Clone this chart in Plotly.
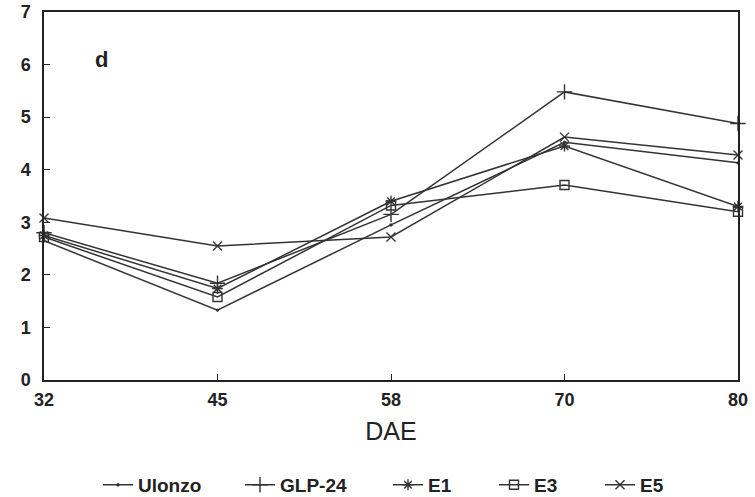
import plotly.graph_objects as go

dae = ["32", "45", "58", "70", "80"]
ulonzo = [2.65, 1.33, 2.95, 4.52, 4.13]
glp24 = [2.80, 1.84, 3.15, 5.48, 4.88]
e1 = [2.75, 1.74, 3.40, 4.45, 3.30]
e3 = [2.72, 1.58, 3.32, 3.71, 3.20]
e5 = [3.08, 2.55, 2.72, 4.62, 4.28]

series = [
    ("Ulonzo", ulonzo, "circle", 2),
    ("GLP-24", glp24, "cross-thin", 11),
    ("E1", e1, "asterisk", 9),
    ("E3", e3, "square-open", 9),
    ("E5", e5, "x-thin", 9),
]
legend_names = ["legend", "legend2", "legend3", "legend4", "legend5"]
legend_px = [98, 240, 388, 494, 600]

line_col = "#333333"
fig = go.Figure()
for (name, vals, sym, size), lg in zip(series, legend_names):
    fig.add_trace(go.Scatter(
        x=dae, y=vals, name=name, mode="lines+markers", legend=lg,
        cliponaxis=False,
        line=dict(color=line_col, width=1.5),
        marker=dict(symbol=sym, size=size, color=line_col,
                    line=dict(color=line_col, width=1.4)),
    ))

tick_font = dict(family="Liberation Sans, Arial", size=18, color="#222", weight="bold")
leg_font = dict(family="Liberation Sans, Arial", size=19, color="#222", weight="bold")

L, R, T, B = 44, 17, 12, 117
pw = 755 - L - R
layout_legends = {}
for lg, px in zip(legend_names, legend_px):
    layout_legends[lg] = dict(orientation="h", x=(px - L) / pw, xanchor="left",
                              y=-0.285, yanchor="middle", font=leg_font,
                              itemwidth=30, bgcolor="rgba(0,0,0,0)")

fig.update_layout(
    width=755, height=497,
    margin=dict(l=L, r=R, t=T, b=B, autoexpand=False),
    paper_bgcolor="white", plot_bgcolor="white",
    showlegend=True,
    **layout_legends,
    xaxis=dict(type="category", range=[0, 4], showgrid=False, zeroline=False,
               automargin=False,
               showline=True, linecolor="#222", linewidth=1.5, mirror=True,
               ticks="inside", ticklen=6, tickcolor="#222", tickwidth=1.3,
               tickfont=tick_font, ticklabelstandoff=3,
               title=dict(text="DAE", standoff=13,
                          font=dict(family="Liberation Sans Narrow, Liberation Sans, Arial", size=25, color="#222"))),
    yaxis=dict(range=[0, 7], dtick=1, showgrid=False, zeroline=False,
               automargin=False,
               showline=True, linecolor="#222", linewidth=1.5, mirror=True,
               ticks="inside", ticklen=6, tickcolor="#222", tickwidth=1.3,
               tickfont=tick_font, ticklabelstandoff=8),
    annotations=[dict(x=0.33, y=6.1, xref="x", yref="y", text="d", showarrow=False,
                      font=dict(family="Liberation Sans, Arial", size=22, color="#222", weight="bold"))],
)

fig.write_html("out.html")
